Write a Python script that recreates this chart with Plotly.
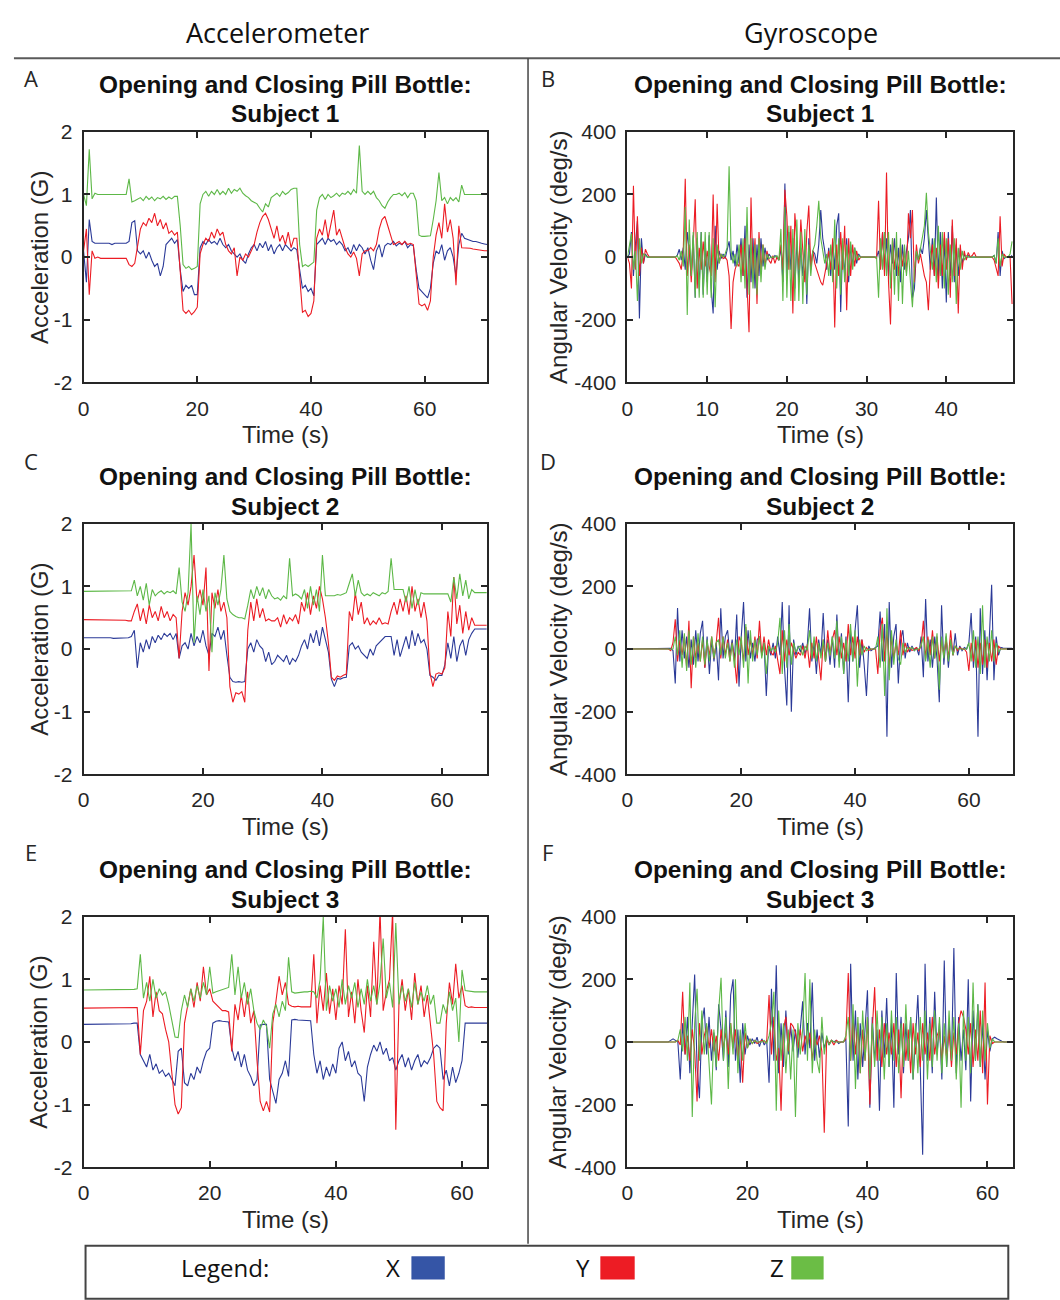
import plotly.graph_objects as go

# ---------------- data ----------------
# Panel A: accelerometer, subject 1 (sample step 0.5 s)
dt_A = 0.5
A_x = [0.1, -0.4, 0.6, 0.25, 0.22, 0.22, 0.22, 0.21, 0.22, 0.22,
       0.2, 0.22, 0.22, 0.22, 0.22, 0.22, 0.25, 0.55, 0.58, 0.1,
       0.05, 0.1, -0.02, 0.08, -0.05, -0.15, -0.1, -0.3, -0.15, 0.2,
       0.25, 0.3, 0.22, 0.28, -0.2, -0.55, -0.45, -0.5, -0.45, -0.6,
       -0.6, 0.15, 0.25, 0.2, 0.28, 0.22, 0.25, 0.2, 0.3, 0.2,
       0.15, 0.2, 0.1, 0.05, 0.0, 0.05, -0.05, -0.1, 0.05, 0.15,
       0.2, 0.1, 0.22, 0.15, 0.25, 0.1, 0.2, 0.05, 0.15, 0.2,
       0.1, 0.2, 0.15, 0.1, 0.15, 0.12, -0.2, -0.5, -0.45, -0.55,
       -0.5, -0.62, 0.2, 0.25, 0.3, 0.2, 0.3, 0.25, 0.28, 0.2,
       0.25, 0.2, 0.1, 0.15, 0.05, 0.2, 0.1, 0.2, 0.15, 0.05,
       0.15, -0.05, -0.2, 0.1, 0.2, 0.0, 0.18, 0.22, 0.2, 0.25,
       0.18, 0.22, 0.2, 0.25, 0.15, 0.2, 0.18, -0.2, -0.5, -0.55,
       -0.6, -0.65, -0.5, -0.1, 0.1, 0.05, 0.2, -0.05, 0.1, 0.15,
       0.0, -0.3, 0.2, 0.38, 0.3, 0.28, 0.27, 0.25, 0.25, 0.23,
       0.22, 0.21, 0.2]
A_y = [0.1, 0.45, -0.6, 0.1, -0.02, 0.0, -0.02, -0.02, -0.02, -0.02,
       -0.02, -0.02, -0.02, -0.02, -0.02, -0.02, -0.12, -0.15, -0.1, 0.2,
       0.45, 0.55, 0.5, 0.62, 0.55, 0.7, 0.5, 0.6, 0.45, 0.55,
       0.38, 0.42, 0.35, 0.4, -0.3, -0.85, -0.9, -0.85, -0.92, -0.87,
       -0.8, 0.05, 0.2, 0.3, 0.25, 0.4, 0.3, 0.45, 0.35, 0.4,
       0.2, 0.1, 0.05, 0.15, -0.3, 0.0, -0.05, 0.05, 0.0, 0.1,
       0.2, 0.4, 0.55, 0.65, 0.7, 0.6, 0.45, 0.3, 0.5, 0.25,
       0.35, 0.2, 0.4, 0.15, 0.3, 0.3, -0.3, -0.88, -0.85, -0.95,
       -0.9, -0.7, 0.3, 0.45, 0.35, 0.6, 0.3, 0.5, 0.75, 0.35,
       0.45, 0.3, 0.15, 0.05, 0.0, 0.08, -0.02, -0.3, 0.05, 0.1,
       0.1, 0.15, 0.1, 0.2, 0.45, 0.6, 0.65, 0.5, 0.35, 0.2,
       0.22, 0.25, 0.2, 0.25, 0.2, 0.22, 0.2, -0.3, -0.75, -0.78,
       -0.75, -0.85, -0.7, 0.0, 0.35, 0.55, 0.3, 0.85, 0.4, 0.6,
       0.3, -0.45, 0.5, 0.15, 0.15, 0.15, 0.14, 0.13, 0.12, 0.12,
       0.11, 0.1, 0.1]
A_z = [1.0, 0.82, 1.72, 0.93, 1.02, 1.0, 1.0, 1.0, 1.0, 1.0,
       1.0, 1.0, 1.0, 1.0, 1.0, 1.0, 1.25, 0.88, 0.9, 0.93,
       0.95, 0.9, 0.97, 0.92, 0.96, 0.9, 0.95, 0.93, 0.97, 0.92,
       0.96, 0.93, 0.97, 0.97, 0.5, -0.12, -0.18, -0.15, -0.2, -0.18,
       -0.15, 0.85, 1.0, 1.05, 0.97, 1.05, 1.0, 1.08, 1.0, 1.05,
       1.0, 1.1, 1.02, 1.08, 1.05, 1.1, 1.02, 0.98, 0.95, 0.9,
       0.88, 0.85, 0.78, 0.72, 0.85, 0.8, 0.95, 0.98, 1.02, 0.97,
       1.05, 1.0, 1.03, 1.08, 1.1, 1.1, 0.2, -0.15, -0.12, -0.15,
       -0.12, -0.08, 0.75, 0.95, 1.0, 0.92, 1.0, 0.95, 0.98, 1.02,
       0.97, 1.02, 1.0, 1.05, 1.0, 1.08, 1.02, 1.78, 1.05, 1.0,
       1.05, 1.0, 1.05, 0.95, 0.9, 0.82, 0.78, 0.88, 0.95, 1.0,
       1.0, 1.02, 0.98, 1.03, 0.95, 1.02, 1.02, 0.9, 0.35, 0.33,
       0.33, 0.33, 0.34, 0.6, 0.9, 1.35, 0.9, 0.95, 0.85, 0.95,
       0.9, 0.95, 0.88, 1.15, 1.0, 1.0, 1.0, 1.0, 1.0, 1.0,
       1.0, 1.0, 1.0]

# Panel B: gyroscope, subject 1 (sample step 0.25 s)
dt_B = 0.25
B_x = [0, 10, 80, -60, 40, 115, -196, 60, -20, 10, 0, 0, 0, 0, 0, 0,
       0, 0, 0, 0, 0, 0, 0, 0, 0, 5, 25, -10, 30, -40, 80, 20,
       -60, 70, -130, 60, -100, 80, -120, 50, -80, 70, -100, -180, 100, -40, 20, -5,
       10, -5, 20, 50, -10, 20, -30, 40, -20, 60, -60, 100, -130, 40, -80, 60,
       -100, 40, -60, 60, -30, 30, -10, 10, 0, -5, 5, 0, -10, 30, -80, 235,
       -60, 80, -40, 60, -100, 50, -80, 30, -60, 40, -150, 60, -30, 20, 10, -20,
       40, 150, 60, 20, -40, 30, -60, 50, -40, 100, 140, -175, 40, -60, 60, -80,
       40, -30, 30, -20, 10, 0, 0, 0, 0, 0, 0, 0, 0, 0, 20, -30,
       80, -40, 60, -60, 40, -20, 60, -60, 30, -80, 40, -40, 20, 60, 150, -130,
       -100, 20, -10, 30, 10, 60, 150, 60, -40, 60, -60, 190, -60, 80, -100, 60,
       -145, 80, -60, 100, -80, 40, -60, 30, -20, 10, -5, 5, 0, 0, 0, 0,
       0, 0, 0, 0, 0, 0, 0, 0, 5, -20, 80, -60, 20, -5, 0, 0,
       0, 5]
B_y = [0, -20, -100, 228, -40, 130, -60, 30, -20, 25, 10, 0, 0, 0, 0, 0,
       0, 0, 0, 0, 0, 0, 0, 0, 0, -10, -20, -40, 20, 250, -60, 40,
       -80, 40, 185, -100, 30, -40, 50, -30, 20, -30, -60, 200, -80, 170, -20, 10,
       -5, 0, -10, -60, -230, -80, -40, -20, -30, 40, -60, 60, -100, -240, 190, -60,
       60, -150, 80, -40, 40, -30, 20, -10, -20, 5, -20, 0, -10, 40, -40, 215,
       130, -40, 100, -180, 140, 60, -40, 120, 30, -80, 80, 165, -40, 20, -20, -40,
       -60, -80, -90, -60, -20, 20, -40, 60, -225, 40, -60, 80, -40, 100, -170, 60,
       -60, 40, -30, 20, -10, 0, 0, 0, 0, 0, 0, 0, 0, -5, 180, -40,
       80, -60, 270, -80, -215, 60, -40, 30, -60, 40, -30, 20, -50, 140, 60, 150,
       -80, 40, -20, 10, -30, -60, -80, -170, -30, 40, -60, 30, -100, 40, -60, 80,
       -40, 60, -130, 120, -60, 60, -180, 40, -40, 20, -10, 15, 0, 5, 15, 0,
       0, 0, 0, 0, 0, 0, 0, 0, -10, -40, -60, 130, -30, 10, 0, 0,
       0, -150]
B_z = [0, 40, 75, -40, 20, -140, 60, -20, 10, 5, 0, 0, 0, 0, 0, 0,
       0, 0, 0, 0, 0, 0, 0, 0, 0, 5, -10, 20, -30, 160, -185, 120,
       -60, 80, -130, 80, -130, 80, -130, 80, -120, 80, -130, 60, -160, 40, -20, 10,
       0, 10, 30, 290, 20, -20, 10, -30, 40, -80, 60, -100, 160, -120, 60, -100,
       40, -120, 60, -80, 40, -40, 10, -5, 0, 0, 0, 5, -10, 90, -140, 160,
       -130, 100, -140, 90, -140, 120, -140, 80, -150, 90, -120, 40, -60, 20, 40, 100,
       180, 60, 20, -20, 10, -60, 40, -80, 120, -100, 60, -120, 60, -80, 40, -60,
       50, -40, 30, -10, 5, 0, 0, 0, 0, 0, 0, 0, 0, 0, -130, 60,
       -40, 80, -60, 80, -100, 60, -120, 80, -140, 60, -150, 40, -60, 20, -80, -160,
       -40, 20, -10, 30, 60, 100, 205, 80, 20, -40, 60, -80, 100, -60, 80, -100,
       60, -120, 40, -80, 60, -150, 30, -40, 20, -10, 5, 0, 0, 0, 0, 0,
       0, 0, 0, 0, 0, 0, 0, 0, 5, -20, 60, -30, 10, 0, 0, 0,
       10, 50]

# Panel C: accelerometer, subject 2 (sample step 0.5 s)
dt_C = 0.5
C_x = [0.18, 0.18, 0.18, 0.18, 0.18, 0.18, 0.18, 0.19, 0.18, 0.18,
       0.17, 0.17, 0.17, 0.17, 0.17, 0.18, 0.2, 0.3, -0.3, 0.1,
       -0.05, 0.15, 0.0, 0.2, 0.1, 0.22, 0.15, 0.25, 0.2, 0.25,
       0.15, 0.25, -0.15, 0.05, 0.1, 0.0, 0.25, 0.05, 0.2, 0.1,
       0.3, 0.05, -0.1, 0.25, 0.2, 0.35, 0.15, 0.3, -0.1, -0.45,
       -0.52, -0.53, -0.52, -0.53, -0.52, 0.0, 0.1, -0.05, 0.15, 0.05,
       0.0, -0.2, -0.05, -0.25, -0.2, -0.1, -0.15, -0.2, -0.1, -0.25,
       -0.15, -0.2, -0.1, 0.05, 0.15, 0.0, 0.25, 0.1, 0.3, 0.05,
       0.35, 0.15, -0.05, -0.48, -0.6, -0.47, -0.48, -0.46, -0.45, 0.05,
       0.1, 0.0, 0.05, -0.05, -0.1, -0.15, 0.0, -0.1, 0.05, 0.1,
       0.15, 0.2, 0.2, 0.2, -0.1, 0.15, -0.12, 0.05, 0.2, 0.0,
       0.3, 0.05, 0.25, 0.1, 0.15, 0.0, -0.42, -0.45, -0.5, -0.42,
       -0.42, -0.25, 0.1, -0.15, 0.2, -0.2, 0.05, 0.15, -0.1, 0.15,
       0.25, 0.32, 0.32, 0.32, 0.32, 0.32]
C_y = [0.47, 0.47, 0.47, 0.47, 0.47, 0.47, 0.47, 0.47, 0.47, 0.47,
       0.47, 0.46, 0.46, 0.46, 0.46, 0.45, 0.45, 0.6, 0.72, 0.45,
       0.65, 0.4, 0.7, 0.5, 0.6, 0.45, 0.68, 0.5, 0.6, 0.45,
       0.55, 0.5, -0.15, 0.6, 0.9, 0.7, 1.0, 1.5, 0.75, 0.95,
       0.7, 1.3, -0.35, 0.9, 0.65, 0.95, 0.6, 0.75, 0.5, -0.6,
       -0.85, -0.7, -0.72, -0.68, -0.85, 0.3, 0.75, 0.45, 0.8, 0.5,
       0.65, 0.45, 0.48, 0.45, 0.45, 0.5, 0.35, 0.55, 0.4, 0.5,
       0.45, 0.55, 0.4, 0.75, 0.6, 0.9, 0.55, 0.85, 0.65, 1.0,
       0.8, 0.5, 0.1, -0.45, -0.5, -0.43, -0.45, -0.42, -0.4, 0.6,
       0.45, 0.9, 0.55, 0.75, 0.4, 0.5, 0.38, 0.45, 0.4, 0.5,
       0.4, 0.42, 0.4, 0.6, 0.75, 0.55, 0.8, 0.6, 0.85, 0.55,
       1.0, 0.6, 0.8, 0.5, 0.75, 0.45, -0.38, -0.6, -0.4, -0.38,
       -0.4, -0.3, 0.6, 0.2, 1.15, 0.4, 0.7, 0.25, 0.6, 0.3,
       0.5, 0.38, 0.38, 0.38, 0.38, 0.38]
C_z = [0.92, 0.92, 0.92, 0.92, 0.92, 0.92, 0.92, 0.92, 0.92, 0.92,
       0.92, 0.92, 0.92, 0.92, 0.92, 0.92, 0.93, 1.1, 0.85, 1.0,
       0.78, 1.05, 0.7, 0.95, 0.85, 0.9, 0.93, 0.88, 0.92, 0.9,
       0.93, 0.88, 1.3, 0.75, 0.6, 0.9, 2.0, 0.1, 0.85, 0.55,
       0.95, 0.6, 0.85, -0.05, 0.9, 0.7, 0.95, 1.5, 0.8, 0.6,
       0.55, 0.52, 0.5, 0.5, 0.48, 0.7, 0.95, 0.8, 1.0, 0.85,
       0.98, 0.8, 0.95, 0.85, 0.8, 0.82, 0.78, 0.85, 0.8, 1.45,
       0.85, 0.88, 0.85, 0.8, 0.95, 0.65, 1.0, 0.7, 0.95, 0.6,
       1.5, 0.85, 0.85, 0.86, 0.85, 0.87, 0.86, 0.88, 0.9, 1.05,
       1.2, 0.85, 1.1, 0.9, 0.85, 0.88, 0.85, 0.9, 0.87, 0.85,
       0.9, 0.88, 0.92, 1.45, 0.95, 0.95, 0.96, 0.95, 0.75, 1.0,
       0.65, 0.95, 0.7, 0.9, 0.88, 0.88, 0.87, 0.88, 0.88, 0.87,
       0.88, 0.88, 0.88, 0.75, 1.15, 0.8, 1.2, 0.85, 1.1, 0.8,
       0.95, 0.9, 0.9, 0.9, 0.9, 0.9]

# Panel D: gyroscope, subject 2 (sample step 0.4 s)
dt_D = 0.4
D_x = [0, 0, 0, 0, 0, 0, 0, 0, 0, 0,
       0, 0, 0, 0, 0, 0, 0, 0, 0, 2,
       -5, -110, 131, -40, 60, -30, 40, -60, 30, -50,
       60, -40, 50, 90, -60, 40, -80, 30, -40, 20,
       -100, 130, -30, 40, 60, -20, 30, -40, 110, -120,
       40, 150, -40, 60, -30, 20, -40, 30, 40, -20,
       20, -150, 10, -20, 20, -30, 40, -20, 150, -60,
       -180, 140, -200, 30, -20, 10, -10, 20, -15, 10,
       130, -40, 20, -80, 30, -20, 115, -40, 30, -50,
       40, -60, 110, -40, 50, -80, 40, -170, 60, -40,
       60, 140, -60, 30, -50, -150, 10, -5, 0, 5,
       10, 120, -40, 80, -280, 150, -60, 40, 80, -110,
       30, 60, -30, 20, -10, 10, -5, 5, -20, 40,
       -90, 160, -40, 30, -60, 40, -30, -170, 140, -50,
       40, -60, 30, -20, 50, -20, 10, -5, 5, 0,
       20, 115, -60, 40, -280, 130, -80, 60, -100, 40,
       205, -100, 40, -20, 5, 3, 2, 2, 2, 2]
D_y = [0, 0, 0, 0, 0, 0, 0, 0, 0, 0,
       0, 0, 0, 0, 0, 0, 0, 0, 0, -5,
       20, 95, -40, 30, -20, 40, -60, 90, -125, 40,
       -30, 20, -40, 30, -60, 20, -20, 40, -30, 20,
       100, -30, 40, -20, 30, -40, 20, -30, -110, 40,
       20, -40, 70, -20, 30, -20, 40, -30, 90, -20,
       40, -20, 30, -10, -20, 10, -40, -80, 60, -40,
       30, -20, 20, -10, -30, -10, -20, 10, -30, 15,
       -60, 20, -30, 40, -20, -100, 30, -40, 60, -20,
       30, 60, -20, 40, -30, 20, -40, 80, -20, 40,
       -30, 40, -20, 30, -10, 5, -5, 0, 0, 0,
       -80, 60, 100, -40, 60, -60, 40, -30, 20, -20,
       60, -20, 20, -10, 5, -5, 0, 5, -5, 10,
       90, -30, 40, -20, 60, -30, 40, -40, 30, -20,
       30, -30, 60, -20, 10, -5, 5, 0, 0, -10,
       -70, 20, -40, 30, -60, 20, -50, 30, -60, 20,
       -40, 30, -50, 10, 0, 0, 0, 0, 0, 0]
D_z = [0, 0, 0, 0, 0, 0, 0, 0, 0, 0,
       0, 0, 0, 0, 0, 0, 0, 0, 0, 0,
       0, 40, -20, 60, -60, 50, -70, 60, -50, 40,
       -60, 50, -40, 40, -50, 30, -40, 40, -30, 20,
       30, -20, 40, -30, 20, -40, 20, -60, 30, -20,
       40, -60, 80, -110, 60, -40, 30, -20, 40, -30,
       20, -80, 10, -5, 5, -10, 20, 100, -80, 60,
       -60, 80, -50, 20, -10, 5, 10, -20, 10, -5,
       60, -30, 40, -40, 20, -30, 30, -40, 20, -20,
       40, -30, 90, -60, 40, -80, 30, -40, 80, -40,
       60, -120, 30, -20, 10, -5, 0, 0, 0, 0,
       40, -60, 80, -150, 130, -100, 60, -50, 30, -30,
       -50, 20, -10, 5, 0, 5, -5, 0, 0, 10,
       40, -40, 30, -60, 40, -30, 50, -130, 40, -30,
       50, -40, 30, -20, 10, 0, 0, 0, 0, 0,
       20, -40, 60, -60, 40, -80, 140, -60, 40, -40,
       60, -40, 20, -10, 0, 0, 0, 0, 0, 0]

# Panel E: accelerometer, subject 3 (sample step 0.5 s)
dt_E = 0.5
E_x = [0.28, 0.28, 0.28, 0.28, 0.28, 0.28, 0.28, 0.28, 0.28, 0.28,
       0.28, 0.28, 0.28, 0.28, 0.29, 0.29, 0.3, 0.3, -0.2, -0.3,
       -0.4, -0.2, -0.45, -0.35, -0.5, -0.45, -0.55, -0.5, -0.6, -0.7,
       -0.15, -0.1, -0.65, -0.7, -0.5, -0.6, -0.4, -0.5, -0.3, -0.15,
       -0.1, 0.3, 0.33, 0.34, 0.33, 0.33, 0.32, -0.1, -0.3, -0.15,
       -0.4, -0.2, -0.45, -0.55, -0.7, -0.6, 0.27, 0.28, 0.28, -0.6,
       -0.8, -0.98, -0.6, -0.5, -0.3, -0.55, 0.35, 0.36, 0.35, 0.35,
       0.35, 0.34, 0.34, -0.2, -0.5, -0.3, -0.6, -0.4, -0.55, -0.35,
       -0.5, -0.1, 0.0, -0.3, -0.15, -0.4, -0.3, -0.5, -0.55, -0.95,
       -0.4, -0.2, -0.05, -0.15, 0.0, -0.2, -0.1, -0.3, -0.25, -0.45,
       -0.3, -0.2, -0.4, -0.25, -0.45, -0.3, -0.2, -0.4, -0.3, -0.35,
       -0.25, -0.1, -0.05, -0.1, -0.6, -0.45, -0.7, -0.4, -0.65, -0.5,
       -0.3, 0.3, 0.3, 0.3, 0.3, 0.3, 0.3, 0.3, 0.3]
E_y = [0.54, 0.54, 0.54, 0.54, 0.54, 0.54, 0.54, 0.54, 0.54, 0.54,
       0.54, 0.54, 0.54, 0.54, 0.54, 0.54, 0.55, 0.55, -0.2, 0.5,
       0.65, 1.05, 0.4, 0.8, 0.5, 0.45, 0.2, 0.0, -0.5, -1.0,
       -1.15, -1.05, 0.3, 0.6, 0.85, 0.55, 0.95, 0.65, 1.2, 0.75,
       0.85, 0.65, 0.6, 0.55, 0.5, 0.5, 0.48, -0.15, 0.6, 0.35,
       0.75, 0.4, 0.8, 0.3, 0.5, -0.3, -0.95, -1.1, -0.95, -1.12,
       0.3, 0.65, 1.05, 0.75, 0.95, 0.6, 0.57, 0.56, 0.57, 0.56,
       0.56, 0.57, 0.56, 1.4, 0.3, 0.9, 0.5, 1.1, 0.45, 0.85,
       0.35, 0.9, 0.6, 1.8, 0.4, 0.8, 0.3, 1.0, 0.5, 0.15,
       0.9, 0.4, 1.6, 0.6, 2.1, 0.5, 0.8, 1.0, 2.1, -1.4,
       0.6, 1.0, 0.5, 0.85, 0.35, 1.1, 0.6, 0.9, 0.4, 0.75,
       0.3, -0.2, -0.95, -1.05, -1.1, 0.3, 0.95, 0.6, 1.25, 0.7,
       0.9, 0.58, 0.55, 0.56, 0.55, 0.55, 0.55, 0.55, 0.55]
E_z = [0.83, 0.83, 0.83, 0.83, 0.83, 0.83, 0.83, 0.83, 0.83, 0.83,
       0.83, 0.83, 0.83, 0.83, 0.83, 0.84, 0.84, 0.85, 1.4, 0.7,
       0.95, 0.65, 1.0, 0.7, 0.85, 0.75, 0.8, 0.6, 0.35, 0.08,
       0.07, 0.5, 0.75, 0.55, 0.85, 0.65, 0.9, 0.7, 0.95, 0.75,
       1.2, 0.78, 0.8, 0.82, 0.84, 0.85, 0.87, 1.4, 0.75, 1.2,
       0.7, 0.95, 0.6, 0.85, 0.5, 0.3, 0.2, 0.35, 0.25, -0.1,
       0.45, 0.6, 0.4, 0.65, 0.5, 1.35, 0.8, 0.78, 0.79, 0.8,
       0.8, 0.8, 0.81, 0.8, 0.7, 1.0, 2.0, 0.5, 0.9, 0.65,
       0.85, 0.55, 1.0, 0.6, 0.9, 0.7, 0.95, 0.55, 0.85, 0.6,
       1.0, 0.65, 0.9, 0.6, 0.95, 1.65, 0.7, 0.95, 0.55, 1.9,
       0.6, 0.9, 0.65, 0.85, 0.55, 0.95, 0.6, 0.8, 0.65, 0.9,
       0.6, 0.75, 0.3, 0.3, 0.6, 0.45, 0.8, 0.5, 0.7, 0.0,
       1.15, 0.82, 0.81, 0.8, 0.8, 0.8, 0.8, 0.8, 0.8]

# Panel F: gyroscope, subject 3 (sample step 0.4 s)
dt_F = 0.4
F_x = [0, 0, 0, 0, 0, 0, 0, 0, 0, 0,
       0, 0, 0, 0, 0, 0, 0, 0, 5, 10,
       5, 0, -120, 60, -40, 80, -100, 50, 215, -80,
       -180, 60, 110, -40, 80, -60, 30, -90, 120, 40,
       -60, 100, -80, 150, 200, -60, 40, -130, 60, -40,
       20, -10, 10, -5, 15, -15, 10, -10, 5, -130,
       170, -60, 245, -100, 60, -80, 100, -40, 50, -30,
       40, -50, 30, 130, -40, 60, -20, 190, -60, 40,
       -50, 30, -20, 10, -10, 5, 0, 5, -5, 0,
       0, 10, -270, 250, -60, 100, -120, 60, -80, 40,
       165, -210, 80, -60, 40, -220, 100, -50, 140, -80,
       60, -210, 220, -40, 80, -100, 60, -60, 80, -120,
       40, 150, -80, -360, 250, -60, 80, -100, 160, -40,
       60, -120, 260, -80, 60, -60, 300, -100, 80, -60,
       40, -90, 200, -190, 100, -60, 120, -80, 60, -120,
       40, -30, 10, 15, 10, 5, 2, 0, 0, 0,
       0]
F_y = [0, 0, 0, 0, 0, 0, 0, 0, 0, 0,
       0, 0, 0, 0, 0, 0, 0, 0, 0, 0,
       0, 5, -10, 160, -40, 20, -60, 40, -30, -190,
       60, -40, 20, 50, -20, 40, -30, 20, -60, 40,
       -20, 30, -40, 60, -20, 40, -60, 20, -130, 30,
       -20, 10, -5, 5, -5, 0, 5, 0, 0, 150,
       -40, 80, -60, -20, -220, 40, 80, -30, 60, 50,
       30, -20, 40, -30, 20, -10, 30, -60, 20, -10,
       20, -30, -290, 10, -5, 5, -10, 5, 0, 0,
       0, 10, 220, -60, 80, -40, 60, -100, 40, -60,
       80, -200, 40, 175, -60, 40, -80, 60, -40, 30,
       -40, 60, -80, 40, -180, 60, -60, 40, -100, 60,
       -40, 30, -80, 60, -40, 30, -60, 80, -40, 20,
       40, -60, 20, -50, 40, -80, 30, -40, 60, 100,
       80, 40, -40, 60, -80, 40, -60, 100, -100, 190,
       -200, 20, -5, 0, 0, 0, 0, 0, 0, 0,
       0]
F_z = [0, 0, 0, 0, 0, 0, 0, 0, 0, 0,
       0, 0, 0, 0, 0, 0, 0, 0, 0, 0,
       0, 5, 40, -30, 80, -60, 190, -240, 60, 170,
       -60, 100, -40, 60, -80, -200, 40, -80, 100, 205,
       -60, 80, -150, 60, -40, 200, -100, 40, -60, 60,
       -20, 10, -5, 5, 0, 0, 0, 5, -5, 20,
       60, 160, -220, 100, -60, 60, -100, 40, -120, 40,
       -240, 60, -40, 40, 220, -60, 200, -100, 40, -60,
       -100, 80, -40, 20, -10, 5, 0, 0, 0, 0,
       0, 20, 80, -60, 120, -150, 80, -100, 100, -60,
       80, -120, 60, -80, 100, -60, 80, -120, 60, -80,
       100, -60, 80, -100, 60, -80, 120, -60, 80, -120,
       60, -100, 80, -60, 100, -120, 60, -80, 100, -60,
       80, -100, 60, -80, 100, -60, 80, -120, 60, -210,
       100, -60, 80, -100, 190, -60, 120, -80, 100, -60,
       60, -20, 10, 0, 0, 0, 0, 0, 0, 0,
       0]

x_ticks_acc = [0, 20, 40, 60]
x_ticks_B = [0, 10, 20, 30, 40]
y_ticks_acc = [-2, -1, 0, 1, 2]
y_ticks_gyro = [-400, -200, 0, 200, 400]
title_line1 = "Opening and Closing Pill Bottle:"
subjects = ["Subject 1", "Subject 2", "Subject 3"]
series_names = ["X", "Y", "Z"]

# ---------------- styling / layout ----------------
W, H = 1060, 1300
def px(x): return x / W
def py(y): return 1 - y / H

BLUE, RED, GREEN = '#2B3A98', '#EC1C24', '#5DB847'
SQ_BLUE, SQ_RED, SQ_GREEN = '#3555A6', '#ED1C24', '#6BBD45'
TXT = '#262626'
NUM_FONT = 'Liberation Sans, Arial, sans-serif'
HDR_FONT = 'Liberation Sans Narrow, Open Sans, sans-serif'

cols = [(78, 484), (625, 1013)]
rows = [(122, 377), (521, 776), (921, 1176)]

panels = [
    dict(letter='A', data=(A_x, A_y, A_z), dt=dt_A, xr=[0, 71], xt=x_ticks_acc, yr=[-2, 2], yt=y_ticks_acc, c=0, r=0, ylab='Acceleration (G)'),
    dict(letter='B', data=(B_x, B_y, B_z), dt=dt_B, xr=[0, 48.4], xt=x_ticks_B, yr=[-400, 400], yt=y_ticks_gyro, c=1, r=0, ylab='Angular Velocity (deg/s)'),
    dict(letter='C', data=(C_x, C_y, C_z), dt=dt_C, xr=[0, 67.6], xt=x_ticks_acc, yr=[-2, 2], yt=y_ticks_acc, c=0, r=1, ylab='Acceleration (G)'),
    dict(letter='D', data=(D_x, D_y, D_z), dt=dt_D, xr=[0, 67.8], xt=x_ticks_acc, yr=[-400, 400], yt=y_ticks_gyro, c=1, r=1, ylab='Angular Velocity (deg/s)'),
    dict(letter='E', data=(E_x, E_y, E_z), dt=dt_E, xr=[0, 64], xt=x_ticks_acc, yr=[-2, 2], yt=y_ticks_acc, c=0, r=2, ylab='Acceleration (G)'),
    dict(letter='F', data=(F_x, F_y, F_z), dt=dt_F, xr=[0, 64.3], xt=x_ticks_acc, yr=[-400, 400], yt=y_ticks_gyro, c=1, r=2, ylab='Angular Velocity (deg/s)'),
]

title_y = [(74, 103), (473, 503), (873, 903)]
xlab_y = [430, 829, 1229]
letter_y = [67, 457, 855]

fig = go.Figure()
annotations = []
layout_axes = {}

for i, p in enumerate(panels):
    n = i + 1
    xa = 'x' if n == 1 else f'x{n}'
    ya = 'y' if n == 1 else f'y{n}'
    x0, x1 = cols[p['c']]
    y0, y1 = rows[p['r']]
    for vals, color, name in zip(p['data'], (BLUE, RED, GREEN), series_names):
        t = [k * p['dt'] for k in range(len(vals))]
        fig.add_trace(go.Scatter(x=t, y=vals, mode='lines', name=name,
                                 line=dict(color=color, width=1.1),
                                 xaxis=xa, yaxis=ya, showlegend=False))
    common = dict(showline=True, linecolor=TXT, linewidth=2, mirror='ticks',
                  ticks='inside', ticklen=6, tickwidth=1.5, tickcolor=TXT,
                  showgrid=False, zeroline=False,
                  tickfont=dict(family=NUM_FONT, size=21, color=TXT))
    layout_axes['xaxis' if n == 1 else f'xaxis{n}'] = dict(
        domain=[px(x0), px(x1)], range=p['xr'], tickvals=p['xt'],
        ticktext=[str(v) for v in p['xt']],
        anchor=ya, ticklabelstandoff=6, **common)
    layout_axes['yaxis' if n == 1 else f'yaxis{n}'] = dict(
        domain=[py(y1), py(y0)], range=p['yr'], tickvals=p['yt'],
        ticktext=[str(v) for v in p['yt']],
        anchor=xa, ticklabelstandoff=5, **common)

    cx = (x0 + x1) / 2
    r = p['r']
    annotations.append(dict(text='<b>' + title_line1 + '</b>', x=px(cx), y=py(title_y[r][0]),
                            font=dict(family=NUM_FONT, size=24.4, color='#111')))
    annotations.append(dict(text='<b>' + subjects[r] + '</b>', x=px(cx), y=py(title_y[r][1]),
                            font=dict(family=NUM_FONT, size=24.4, color='#111')))
    annotations.append(dict(text='Time (s)', x=px(cx), y=py(xlab_y[r]),
                            font=dict(family=NUM_FONT, size=24, color=TXT)))
    ylx = 33 if p['c'] == 0 else 555
    annotations.append(dict(text=p['ylab'], x=px(ylx), y=py((y0 + y1) / 2), textangle=-90,
                            font=dict(family=NUM_FONT, size=24, color=TXT)))
    lx = 25 if p['c'] == 0 else 545
    annotations.append(dict(text=p['letter'], x=px(lx), y=py(letter_y[r]),
                            font=dict(family=HDR_FONT, size=22, color=TXT)))

# column headers
annotations.append(dict(text='Accelerometer', x=px(273), y=py(21), font=dict(family=HDR_FONT, size=27, color='#111')))
annotations.append(dict(text='Gyroscope', x=px(810), y=py(21), font=dict(family=HDR_FONT, size=27, color='#111')))
# legend box contents
annotations.append(dict(text='Legend:', x=px(220), y=py(1278), font=dict(family=HDR_FONT, size=24, color='#111')))
for lab, lxp in zip(series_names, (389, 580, 775)):
    annotations.append(dict(text=lab, x=px(lxp), y=py(1278), font=dict(family=HDR_FONT, size=24, color='#111')))

for a in annotations:
    a.update(xref='paper', yref='paper', showarrow=False, xanchor='center', yanchor='middle')

def line_shape(xa, ya, xb, yb, color='#555', width=2):
    return dict(type='line', xref='paper', yref='paper', x0=px(xa), y0=py(ya), x1=px(xb), y1=py(yb),
                line=dict(color=color, width=width))

def rect_shape(xa, ya, xb, yb, fill=None, color='#444', width=2):
    d = dict(type='rect', xref='paper', yref='paper', x0=px(xa), y0=py(ya), x1=px(xb), y1=py(yb),
             line=dict(color=color, width=width))
    if fill:
        d['fillcolor'] = fill
    return d

shapes = [
    line_shape(8, 47, 1060, 47, '#5a5a5a', 2),
    line_shape(525, 47, 525, 1254, '#444', 1.5),
    rect_shape(80, 1256, 1008, 1310, None, '#444', 2),
    rect_shape(408, 1267, 441, 1290, SQ_BLUE, SQ_BLUE, 0.5),
    rect_shape(598, 1267, 632, 1290, SQ_RED, SQ_RED, 0.5),
    rect_shape(790, 1267, 822, 1290, SQ_GREEN, SQ_GREEN, 0.5),
]

fig.update_layout(width=W, height=H, margin=dict(l=0, r=0, t=0, b=0),
                  paper_bgcolor='white', plot_bgcolor='white',
                  showlegend=False, annotations=annotations, shapes=shapes,
                  **layout_axes)

fig.write_html("out.html", config={'displayModeBar': False},
               post_script="document.body.style.margin='0px';document.body.style.overflow='hidden';")
